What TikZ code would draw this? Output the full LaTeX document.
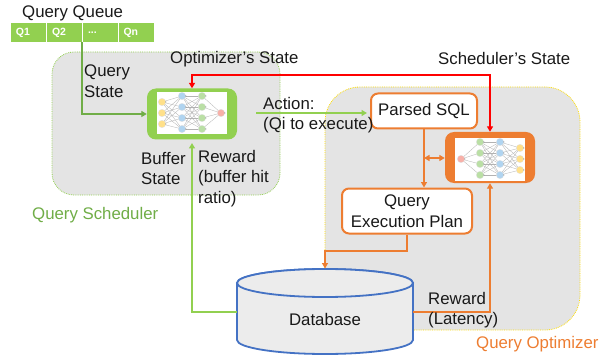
\documentclass[tikz,border=0pt]{standalone}
\usepackage{fontspec}
\setmainfont{Liberation Sans}
\usetikzlibrary{arrows.meta,positioning}
\definecolor{lgreen}{HTML}{92D050}
\definecolor{dgreen}{HTML}{70AD47}
\definecolor{orng}{HTML}{ED7D31}
\definecolor{zone}{HTML}{E4E4E4}
\definecolor{dbblue}{HTML}{4472C4}
\definecolor{dbfill}{HTML}{ECECEC}
\definecolor{nyellow}{HTML}{FFE08A}
\definecolor{nblue}{HTML}{B0D4F0}
\definecolor{ngreen}{HTML}{BADFA5}
\definecolor{nred}{HTML}{F8B0A8}
\tikzset{
  x=1pt,y=-1pt,
  txt/.style={font=\fontsize{16.8}{20.5}\selectfont,inner sep=0pt,text=black!90,align=left},
  ctxt/.style={txt,align=center},
  zonebox/.style={fill=zone,draw=#1,densely dotted,line width=0.8pt,inner sep=0pt},
  cell/.style={fill=lgreen,text=white,font=\fontsize{10.5}{12}\bfseries\selectfont,minimum width=35pt,minimum height=19pt,inner sep=0pt,text width=25pt,align=left},
  planbox/.style={draw=orng,line width=2pt,fill=white,rounded corners=7pt,inner sep=0pt,font=\fontsize{16.8}{20.5}\selectfont,text=black!90},
  netbox/.style={fill=#1,rounded corners=9pt,minimum width=90pt,minimum height=51pt,inner sep=0pt},
  netpane/.style={fill=white,minimum width=70pt,minimum height=42pt,inner sep=0pt},
  neuron/.style={circle,draw=black!12,line width=0.3pt,fill=#1,minimum size=7.4pt,inner sep=0pt},
  link/.style={line width=0.3pt,draw=black!30},
  lg/.style={draw=lgreen,line width=2pt},
  dg/.style={draw=dgreen,line width=2pt},
  og/.style={draw=orng,line width=2pt},
  rd/.style={draw=red,line width=2pt},
  tip/.style={-{Triangle[length=5.5pt,width=6pt]}},
  bitip/.style={{Triangle[length=5.5pt,width=6pt]}-{Triangle[length=5.5pt,width=6pt]}},
}
\newcommand{\drawnet}[5]{%
  \begin{scope}[shift={(#1,#2)}]
    \foreach \a in {-11,0,11} \foreach \b in {-17,-6,5,16}
      \draw[link] (#3*-30,\a) -- (#3*-10,\b);
    \foreach \a in {-17,-6,5,16} \foreach \b in {-17,-6,5,16}
      \draw[link] (#3*-10,\a) -- (#3*10,\b);
    \foreach \a in {-17,-6,5,16}
      \draw[link] (#3*10,\a) -- (#3*29,0);
    \foreach \a in {-11,0,11} {
      \node[neuron=#4] at (#3*-30,\a) {};
      \fill[black!70] (#3*-30+3.9,\a) circle (0.5);}
    \foreach \a in {-17,-6,5,16} {
      \node[neuron=nblue] at (#3*-10,\a) {};
      \fill[black!70] (#3*-10+3.9,\a) circle (0.5);
      \node[neuron=ngreen] at (#3*10,\a) {};
      \fill[black!70] (#3*10+3.9,\a) circle (0.5);}
    \node[neuron=#5] at (#3*29,0) {};
    \fill[black!70] (#3*29+3.9,0) circle (0.5);
  \end{scope}}
\begin{document}
\begin{tikzpicture}
\useasboundingbox (0,0) rectangle (615,358);
\node[zonebox=lgreen,rounded corners=22pt,minimum width=228pt,minimum height=143pt] (sched) at (166,123.5) {};
\node[zonebox=yellow!80!orange,rounded corners=35pt,minimum width=255pt,minimum height=243pt] (opt) at (452.5,208.5) {};
\node[cell] (q1) at (28.5,32.5) {Q1};
\node[cell] (q2) at (64.5,32.5) {Q2};
\node[cell] (q3) at (100.5,32.5) {...};
\node[cell] (qn) at (136,32.5) {Qn};
\node[netbox=lgreen] (gnet) at (192,114) {};
\node[netpane] (gpane) at (192,113) {};
\drawnet{192}{113}{1}{nyellow}{nred}
\node[netbox=orng] (onet) at (490,157.5) {};
\node[netpane] (opane) at (490,159.5) {};
\drawnet{490}{159}{-1}{nyellow}{nred}
\node[planbox,minimum width=106pt,minimum height=35pt] (sql) at (424,111) {Parsed SQL};
\node[planbox,minimum width=130pt,minimum height=45pt,align=center] (qep) at (407,211) {Query\\Execution Plan};
\node[minimum width=176pt,minimum height=85pt,inner sep=0pt] (db) at (325,311.5) {};
\draw[draw=dbblue,line width=1.8pt,fill=dbfill] (237,283) -- (237,340) arc[start angle=180,end angle=360,x radius=88,y radius=-14] -- (413,283) arc[start angle=0,end angle=180,x radius=88,y radius=-14] -- cycle;
\draw[draw=dbblue,line width=1.8pt,fill=dbfill] (325,283) ellipse[x radius=88,y radius=14];
\node[ctxt] (dbtext) at (325,319) {Database};
\coordinate (qs) at (82,42);
\draw[dg,tip] (qs) |- (gnet.west);
\coordinate (act) at (256,113);
\coordinate (actend) at (367,113);
\draw[lg,tip] (act) -- (actend);
\draw[rd,bitip] (onet.north) -- (490,75) -- (192,75) -- (gnet.north);
\draw[og,tip] (sql.south) -- (qep.north -| sql.south);
\coordinate (mid) at (424,158);
\draw[og,bitip] (mid) -- (onet.west |- mid);
\draw[og,tip] (qep.south) -- (407,251) -- (325,251) -- (325,268.5);
\draw[og,tip] (db.east) -- (490,311.5) -- (onet.south);
\draw[lg,tip] (db.west) -- (192,311.5) -- (192,143);
\node[txt,anchor=west] (lqq) at (22,13.5) {Query Queue};
\node[txt,anchor=west] (los) at (170,59) {Optimizer’s State};
\node[txt,anchor=west] (lss) at (438,58) {Scheduler’s State};
\node[txt,anchor=north west] (lqs) at (84,65) {Query\\State};
\node[txt,anchor=north west] (lbs) at (141,152) {Buffer\\State};
\node[txt,anchor=north west] (lrw) at (198,150) {Reward\\(buffer hit\\ratio)};
\node[txt,anchor=north west] (lac) at (263,97) {Action:\\(Qi to execute)};
\node[txt,anchor=north west] (lrl) at (428,292) {Reward\\(Latency)};
\node[txt,anchor=west,text=dgreen] (lqsch) at (32,215) {Query Scheduler};
\node[txt,anchor=west,text=orng] (lqopt) at (476,344) {Query Optimizer};
\end{tikzpicture}
\end{document}
